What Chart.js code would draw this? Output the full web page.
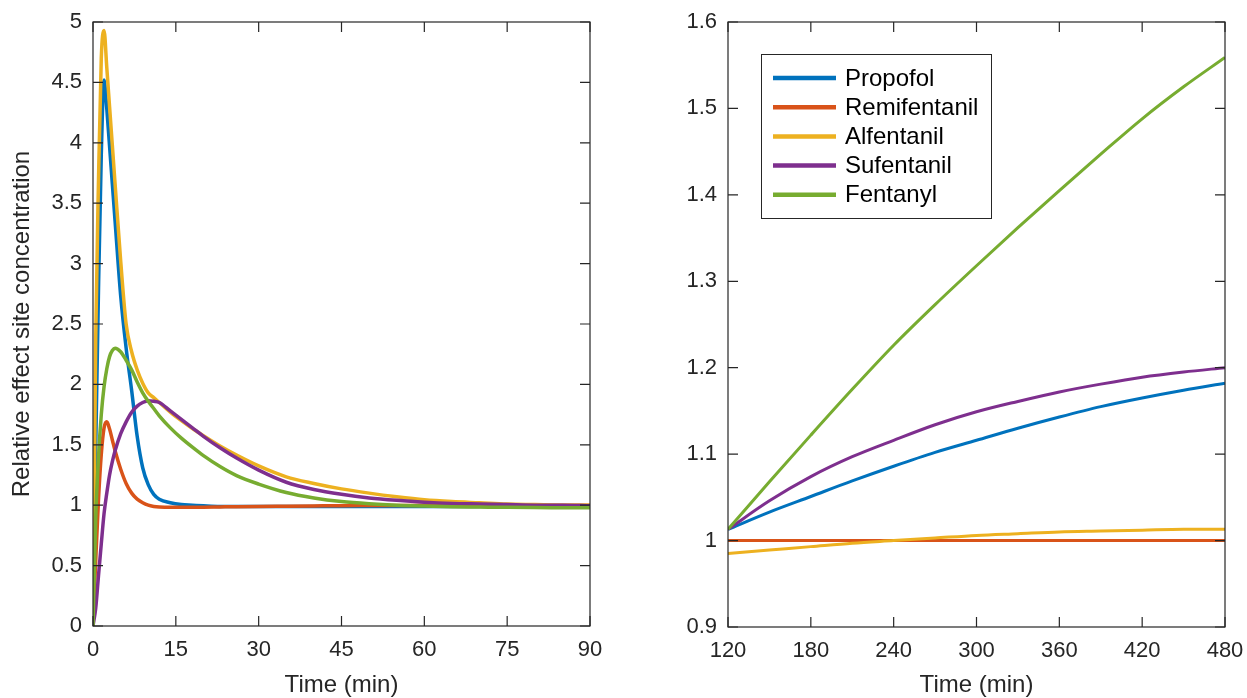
<!DOCTYPE html>
<html lang="en">
<head>
  <meta charset="UTF-8">
  <title>Relative effect site concentration</title>
  <script src="https://cdn.jsdelivr.net/npm/chart.js"></script>
  <style>
    body { margin: 0; background: #fff; }
    .wrap { position: relative; width: 1247px; height: 698px; overflow: hidden; }
    canvas { position: absolute; top: 0; }
    #leftChart { left: 0; }
    #rightChart { left: 630px; }
  </style>
</head>
<body>
  <div class="wrap">
    <canvas id="leftChart" width="615" height="698"></canvas>
    <canvas id="rightChart" width="617" height="698"></canvas>
  </div>

  <script>
    // Series names and colours (MATLAB default order)
    const drugs = ['Propofol', 'Remifentanil', 'Alfentanil', 'Sufentanil', 'Fentanyl'];
    const colors = ['#0072BD', '#D95319', '#EDB120', '#7E2F8E', '#77AC30'];

    // Left panel: first 90 minutes
    const leftTime = [0, 0.5, 1, 1.5, 2, 2.5, 3, 3.5, 4, 5, 6, 7, 8, 9, 10, 11, 12, 14, 16, 18,
                      20, 23, 26, 30, 35, 40, 45, 50, 55, 60, 65, 70, 75, 80, 85, 90];
    const leftPropofol = [0, 1.5, 2.8, 3.9, 4.52, 4.28, 3.97, 3.66, 3.35, 2.74, 2.3, 1.95, 1.57, 1.31, 1.17, 1.09, 1.05, 1.02, 1.005, 1.0,
                          0.995, 0.99, 0.99, 0.99, 0.99, 0.99, 0.99, 0.99, 0.99, 0.99, 0.99, 0.99, 0.99, 0.99, 0.99, 0.99];
    const leftRemifentanil = [0, 0.55, 1.05, 1.42, 1.64, 1.69, 1.63, 1.54, 1.45, 1.3, 1.18, 1.1, 1.05, 1.02, 1.0, 0.99, 0.985, 0.982, 0.982, 0.983,
                              0.984, 0.986, 0.988, 0.99, 0.992, 0.994, 0.996, 0.997, 0.998, 0.999, 1.0, 1.0, 1.0, 1.0, 1.0, 1.0];
    const leftAlfentanil = [0, 2.4, 3.7, 4.7, 4.93, 4.62, 4.3, 3.98, 3.66, 3.03, 2.5, 2.27, 2.12, 2.01, 1.93, 1.89, 1.85, 1.77, 1.7, 1.635,
                            1.575, 1.49, 1.415, 1.325, 1.235, 1.18, 1.135, 1.1, 1.07, 1.045, 1.03, 1.02, 1.01, 1.005, 1.0, 1.0];
    const leftSufentanil = [0, 0.15, 0.42, 0.68, 0.93, 1.1, 1.25, 1.36, 1.45, 1.59, 1.69, 1.77, 1.82, 1.85, 1.865, 1.86, 1.85, 1.78, 1.71, 1.64,
                            1.57, 1.475, 1.39, 1.29, 1.19, 1.13, 1.09, 1.06, 1.04, 1.025, 1.015, 1.01, 1.005, 1.0, 1.0, 0.995];
    const leftFentanyl = [0, 0.9, 1.4, 1.75, 1.98, 2.13, 2.23, 2.28, 2.3, 2.27, 2.2, 2.12, 2.02, 1.93, 1.86, 1.8, 1.74, 1.64, 1.555, 1.48,
                          1.41, 1.32, 1.245, 1.175, 1.105, 1.06, 1.03, 1.012, 1.0, 0.993, 0.988, 0.985, 0.982, 0.98, 0.979, 0.978];

    // Right panel: 2 to 8 hours
    const rightTime = [120, 150, 180, 210, 240, 270, 300, 330, 360, 390, 420, 450, 480];
    const rightPropofol = [1.013, 1.033, 1.051, 1.069, 1.086, 1.102, 1.116, 1.13, 1.143, 1.155, 1.165, 1.174, 1.182];
    const rightRemifentanil = [1.0, 1.0, 1.0, 1.0, 1.0, 1.0, 1.0, 1.0, 1.0, 1.0, 1.0, 1.0, 1.0];
    const rightAlfentanil = [0.985, 0.989, 0.993, 0.997, 1.0, 1.003, 1.006, 1.008, 1.01, 1.011, 1.012, 1.013, 1.013];
    const rightSufentanil = [1.013, 1.046, 1.074, 1.097, 1.116, 1.134, 1.149, 1.161, 1.172, 1.181, 1.189, 1.195, 1.2];
    const rightFentanyl = [1.013, 1.068, 1.122, 1.175, 1.226, 1.273, 1.318, 1.362, 1.405, 1.447, 1.488, 1.525, 1.559];

    // Tick labels
    const leftXTicks = [0, 15, 30, 45, 60, 75, 90];
    const leftYTicks = [0, 0.5, 1, 1.5, 2, 2.5, 3, 3.5, 4, 4.5, 5];
    const rightXTicks = [120, 180, 240, 300, 360, 420, 480];
    const rightYTicks = [0.9, 1, 1.1, 1.2, 1.3, 1.4, 1.5, 1.6];

    const axisColor = '#262626';
    const fontFamily = '"Liberation Sans", Arial, Helvetica, sans-serif';

    function makeDatasets(time, series, width) {
      return series.map((values, i) => ({
        label: drugs[i],
        data: time.map((t, k) => ({ x: t, y: values[k] })),
        borderColor: colors[i],
        backgroundColor: colors[i],
        borderWidth: width,
        pointRadius: 0,
        cubicInterpolationMode: 'monotone',
        order: series.length - i   // later series drawn on top, like MATLAB
      }));
    }

    // Full box with inward ticks on all four sides
    const boxTicks = {
      id: 'boxTicks',
      afterDatasetsDraw(chart) {
        const { ctx, chartArea: a, scales } = chart;
        const len = 10;
        ctx.save();
        ctx.strokeStyle = axisColor;
        ctx.lineWidth = 1.2;
        ctx.strokeRect(a.left, a.top, a.right - a.left, a.bottom - a.top);
        ctx.beginPath();
        scales.x.ticks.forEach(t => {
          const px = scales.x.getPixelForValue(t.value);
          ctx.moveTo(px, a.bottom); ctx.lineTo(px, a.bottom - len);
          ctx.moveTo(px, a.top); ctx.lineTo(px, a.top + len);
        });
        scales.y.ticks.forEach(t => {
          const py = scales.y.getPixelForValue(t.value);
          ctx.moveTo(a.left, py); ctx.lineTo(a.left + len, py);
          ctx.moveTo(a.right, py); ctx.lineTo(a.right - len, py);
        });
        ctx.stroke();
        ctx.restore();
      }
    };

    // Boxed legend inside the right plot, top-left
    const insideLegend = {
      id: 'insideLegend',
      afterDraw(chart) {
        const { ctx, chartArea: a } = chart;
        const x0 = a.left + 33, y0 = a.top + 32, w = 230, h = 164;
        ctx.save();
        ctx.fillStyle = '#fff';
        ctx.fillRect(x0, y0, w, h);
        ctx.strokeStyle = axisColor;
        ctx.lineWidth = 1;
        ctx.strokeRect(x0 + 0.5, y0 + 0.5, w, h);
        ctx.font = '24px ' + fontFamily;
        ctx.textBaseline = 'middle';
        chart.data.datasets.forEach((ds, i) => {
          const y = y0 + 24 + i * 29.2;
          ctx.strokeStyle = ds.borderColor;
          ctx.lineWidth = 4.5;
          ctx.beginPath();
          ctx.moveTo(x0 + 12, y);
          ctx.lineTo(x0 + 75, y);
          ctx.stroke();
          ctx.fillStyle = '#000';
          ctx.fillText(ds.label, x0 + 84, y + 1);
        });
        ctx.restore();
      }
    };

    function makeConfig(opts) {
      return {
        type: 'line',
        data: { datasets: makeDatasets(opts.time, opts.series, opts.lineWidth) },
        options: {
          responsive: false,
          animation: false,
          layout: { padding: { top: 22, right: opts.padRight, bottom: 0, left: 0 } },
          plugins: {
            legend: { display: false },
            tooltip: { enabled: false }
          },
          scales: {
            x: {
              type: 'linear',
              min: opts.xTicks[0],
              max: opts.xTicks[opts.xTicks.length - 1],
              afterBuildTicks: s => { s.ticks = opts.xTicks.map(v => ({ value: v })); },
              afterFit: s => { s.height = opts.xHeight; },
              grid: { display: false },
              border: { display: false },
              ticks: { color: axisColor, padding: 3, maxRotation: 0, font: { family: fontFamily, size: 22 } },
              title: {
                display: true, text: 'Time (min)', color: axisColor,
                padding: { top: 0, bottom: 1 },
                font: { family: fontFamily, size: 24, lineHeight: 1 }
              }
            },
            y: {
              type: 'linear',
              min: opts.yTicks[0],
              max: opts.yTicks[opts.yTicks.length - 1],
              afterBuildTicks: s => { s.ticks = opts.yTicks.map(v => ({ value: v })); },
              afterFit: s => { s.width = opts.yWidth; },
              grid: { display: false },
              border: { display: false },
              ticks: { color: axisColor, padding: 3, font: { family: fontFamily, size: 22 }, callback: v => String(v) },
              title: {
                display: !!opts.yTitle, text: opts.yTitle || '', color: axisColor,
                padding: { top: 10, bottom: 0 },
                font: { family: fontFamily, size: 24, lineHeight: 1 }
              }
            }
          }
        },
        plugins: opts.plugins
      };
    }

    new Chart(document.getElementById('leftChart'), makeConfig({
      time: leftTime,
      series: [leftPropofol, leftRemifentanil, leftAlfentanil, leftSufentanil, leftFentanyl],
      xTicks: leftXTicks, yTicks: leftYTicks,
      yTitle: 'Relative effect site concentration',
      yWidth: 93, xHeight: 72, padRight: 25, lineWidth: 3.5,
      plugins: [boxTicks]
    }));

    new Chart(document.getElementById('rightChart'), makeConfig({
      time: rightTime,
      series: [rightPropofol, rightRemifentanil, rightAlfentanil, rightSufentanil, rightFentanyl],
      xTicks: rightXTicks, yTicks: rightYTicks,
      yWidth: 98, xHeight: 71, padRight: 22, lineWidth: 3,
      plugins: [boxTicks, insideLegend]
    }));
  </script>
</body>
</html>
